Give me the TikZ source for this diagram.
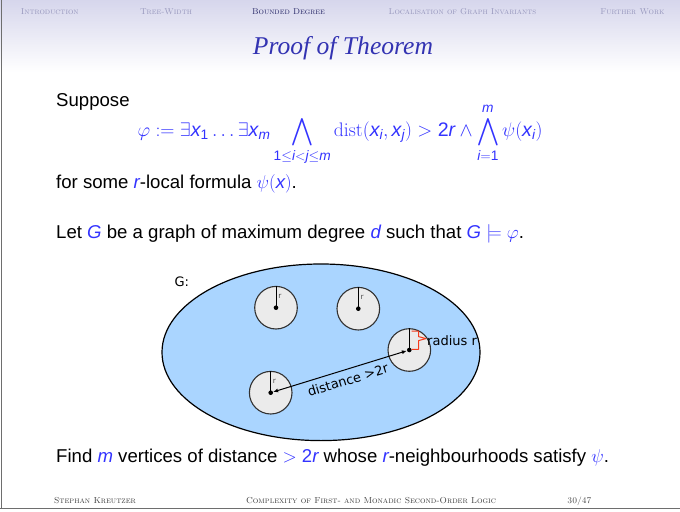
\RequirePackage{fix-cm}
\documentclass[tikz,border=0pt]{standalone}
\usepackage{amsmath}
\usepackage{amssymb}
\usepackage{fontspec}
\usetikzlibrary{shapes.geometric,arrows.meta}
\newfontfamily\hv{Liberation Sans}
\newfontfamily\tms{Liberation Serif}
\newfontfamily\dv{DejaVu Sans}
\definecolor{blu}{RGB}{51,51,255}
\definecolor{titleblue}{RGB}{51,51,178}
\definecolor{navgray}{RGB}{150,150,188}
\definecolor{navactive}{RGB}{38,38,102}
\definecolor{hdtop}{RGB}{214,214,236}
\definecolor{gfill}{RGB}{170,213,255}
\definecolor{circfill}{RGB}{235,235,235}
\definecolor{circstroke}{RGB}{50,50,50}
\definecolor{bracecol}{RGB}{245,60,30}
\definecolor{foot}{RGB}{60,60,60}
\definecolor{frameline}{RGB}{110,110,110}
\newcommand\sv[1]{\text{\hv\itshape #1}}
\newcommand\svn[1]{\text{\hv #1}}
\newcommand\bl[1]{{\color{blu}#1}}
\begin{document}
\begin{tikzpicture}[x=1bp,y=1bp,
  navi/.style={font=\rmfamily\scshape\fontsize{8.5bp}{10bp}\selectfont, text=navgray, inner sep=0, anchor=base},
  footi/.style={font=\rmfamily\scshape\fontsize{8.7bp}{10bp}\selectfont, text=foot, inner sep=0, anchor=base},
  body/.style={font=\hv\fontsize{18.6bp}{22bp}\selectfont, inner sep=0, anchor=base west},
  disc/.style={circle, draw=circstroke, fill=circfill, line width=1.1bp, minimum size=42.6bp, inner sep=0},
  ctr/.style={circle, fill=black, minimum size=4.6bp, inner sep=0},
  lbl/.style={font=\dv\fontsize{13bp}{15bp}\selectfont, inner sep=0},
  tinyr/.style={font=\dv\fontsize{7.5bp}{9bp}\selectfont, text=black!70, inner sep=0},
  radline/.style={line width=1bp, black}]
\useasboundingbox (0,0) rectangle (680,-512);
% header
\shade[top color=hdtop, bottom color=white] (0,0) rectangle (680,-72);
\node[navi] (n1) at (49.8,-14.3) {Introduction};
\node[navi] (n2) at (166,-14.3) {Tree-Width};
\node[navi, text=navactive] (n3) at (288.5,-14.3) {Bounded Degree};
\node[navi] (n4) at (462.5,-14.3) {Localisation of Graph Invariants};
\node[navi] (n5) at (632.5,-14.3) {Further Work};
\node[font=\tms\itshape\fontsize{25.6bp}{30bp}\selectfont, text=titleblue, anchor=base, inner sep=0] (title) at (343,-55) {Proof of Theorem};
% frame lines
\draw[frameline, line width=1.2bp] (1.2,0) -- (1.2,-509);
\draw[frameline, line width=1.6bp] (0,-508.6) -- (680,-508.6);
% body text
\node[body] (t1) at (56,-106.7) {Suppose};
\node[body, anchor=base, text=blu, font=\hv\fontsize{19.6bp}{23bp}\selectfont] (formula) at (340,-136.7)
  {$\displaystyle \varphi := \exists \sv{x}_{\svn{1}} \ldots \exists \sv{x}_{\sv{m}}
   \bigwedge_{\svn{1}\le \sv{i}<\sv{j}\le \sv{m}} \mathrm{dist}(\sv{x}_{\sv{i}}, \sv{x}_{\sv{j}}) > \svn{2}\sv{r}
   \wedge \bigwedge_{\sv{i}=\svn{1}}^{\sv{m}} \psi(\sv{x}_{\sv{i}})$};
\node[body] (t2) at (56,-188.3) {for some \bl{\itshape r}-local formula \bl{$\psi(\sv{x})$}.};
\node[body] (t3) at (56,-238.3) {Let \bl{\itshape G} be a graph of maximum degree \bl{\itshape d} such that \bl{$\sv{G}\models\varphi$}.};
\node[body] (t4) at (56,-462.7) {Find \bl{\itshape m} vertices of distance \bl{$>\svn{2}\sv{r}$} whose \bl{\itshape r}-neighbourhoods satisfy \bl{$\psi$}.};
% diagram
\node[ellipse, draw=black, fill=gfill, line width=1.2bp, minimum width=318bp, minimum height=176.6bp, inner sep=0] (G) at (321,-352.3) {};
\node[lbl, anchor=base west] (glabel) at (174.3,-286) {G:};
\node[disc] (d1) at (276,-307.7) {};
\node[disc] (d2) at (358.3,-308.7) {};
\node[disc] (d3) at (409.3,-350) {};
\node[disc] (d4) at (270.7,-392.7) {};
\draw[radline] (d1.center) -- (d1.north);
\draw[radline] (d2.center) -- (d2.north);
\draw[radline] (d3.center) -- (d3.north);
\draw[radline] (d4.center) -- (d4.north);
\node[tinyr] (r1) at (279.8,-296.5) {r};
\node[tinyr] (r2) at (362.1,-297.5) {r};
\node[tinyr] (r4) at (274.5,-381.5) {r};
\node[ctr] (c1) at (d1.center) {};
\node[ctr] (c2) at (d2.center) {};
\node[ctr] (c3) at (d3.center) {};
\node[ctr] (c4) at (d4.center) {};
\draw[line width=1bp, {Latex[length=5bp,width=4bp]}-{Latex[length=5bp,width=4bp]}] (c4) -- node[lbl, sloped, below=5bp, pos=0.536] (dist) {distance >2r} (c3);
\draw[bracecol, line width=1bp, line join=round] (411.7,-331) -- (418.5,-331) -- (418.5,-336.6) -- (426,-338.6) -- (418.5,-340.6) -- (418.5,-349.3) -- (411.7,-349.3);
\node[lbl, anchor=base west] (rad) at (427,-345) {radius r};
% footer
\node[footi] (f1) at (95,-503) {Stephan Kreutzer};
\node[footi] (f2) at (371,-503) {Complexity of First- and Monadic Second-Order Logic};
\node[footi] (f3) at (579.5,-503) {30/47};
\end{tikzpicture}
\end{document}
